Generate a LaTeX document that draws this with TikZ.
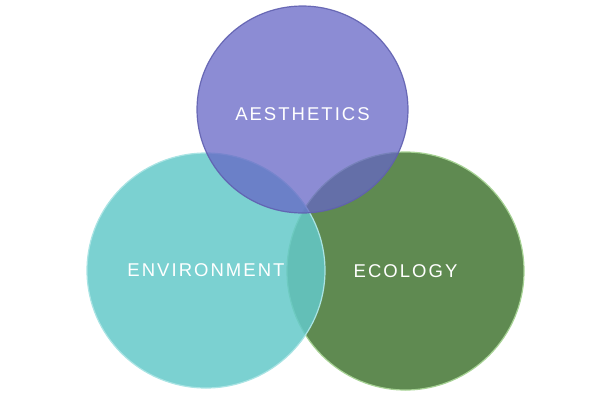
\documentclass[tikz,border=0pt]{standalone}
\usepackage{fontspec}
\usepackage{tikz}
\usetikzlibrary{shapes.geometric}
\newfontfamily\labelfont[LetterSpace=11]{Liberation Sans}
\definecolor{aescol}{RGB}{102,102,198}
\definecolor{aesrim}{RGB}{96,96,176}
\definecolor{envcol}{RGB}{100,201,201}
\definecolor{envrim}{RGB}{170,228,228}
\definecolor{ecocol}{RGB}{95,138,81}
\definecolor{ecorim}{RGB}{166,210,148}

\begin{document}
\begin{tikzpicture}
  [x=1pt,y=-1pt,every node/.style={ellipse,inner sep=0pt,text=white,text opacity=1,
   font=\labelfont\fontsize{18.5}{20}\selectfont}]
  \useasboundingbox (0,0) rectangle (600,400);
  \node[fill=ecocol, draw=ecorim, line width=1.2pt, minimum width=237pt, minimum height=238pt] (eco) at (405.5,271) {ECOLOGY};
  \node[fill=envcol, fill opacity=.85, draw=envrim, line width=1.2pt, minimum width=238pt, minimum height=235pt] (env) at (206,270.5) {ENVIRONMENT};
  \node[fill=aescol, fill opacity=.75, draw=aesrim, draw opacity=.9, line width=1.2pt, minimum width=211pt, minimum height=207pt,
        text height=21pt, text depth=0pt] (aes) at (302.5,109.5) {AESTHETICS};

\end{tikzpicture}
\end{document}
